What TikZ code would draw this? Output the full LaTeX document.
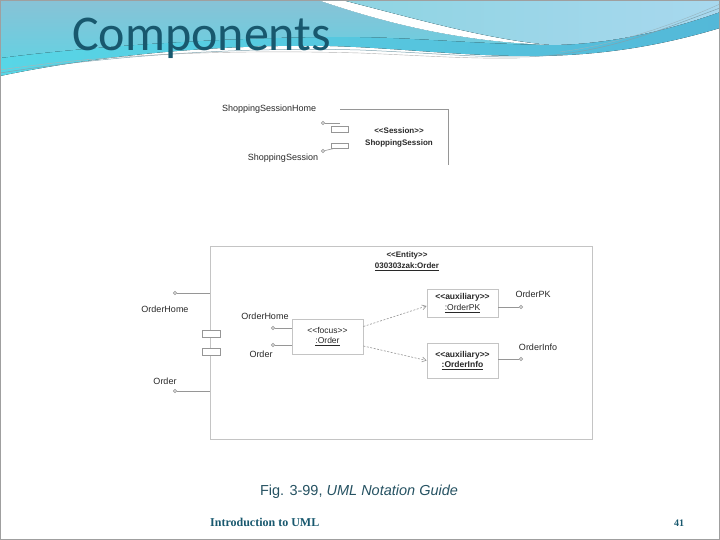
\documentclass[tikz,border=0pt]{standalone}
\usepackage{fontspec}
\setmainfont{Liberation Serif}
\setsansfont{Liberation Sans}
\newfontfamily\titlefont{Carlito}
\usetikzlibrary{positioning}
\usetikzlibrary{arrows.meta}
\definecolor{titleteal}{RGB}{24,88,110}
\definecolor{capteal}{RGB}{38,82,98}
\definecolor{bandcyan}{RGB}{88,214,230}
\definecolor{banddeep}{RGB}{84,184,216}
\definecolor{bandblue}{RGB}{136,194,214}
\definecolor{skyleft}{RGB}{142,212,226}
\definecolor{skyright}{RGB}{168,216,238}
\definecolor{umlline}{RGB}{150,150,150}
\definecolor{umlbox}{RGB}{196,196,196}
\definecolor{umltext}{RGB}{40,40,40}
\tikzset{
  lbl/.style={font=\sffamily\fontsize{9}{10.5}\selectfont, text=umltext, inner sep=0pt, align=center},
  part/.style={draw=umlbox, line width=0.8, fill=white, font=\sffamily\fontsize{8.5}{10.5}\selectfont, text=umltext, align=center, inner sep=0pt},
  tab/.style={draw=umlline, line width=0.6, fill=white, inner sep=0pt, minimum width=17, minimum height=6},
  lolli/.style={circle, draw=umlline, line width=0.6, fill=white, inner sep=0pt, minimum size=3.2},
  wire/.style={draw=umlline, line width=0.6},
  dep/.style={draw=umlline, line width=0.6, dashed, dash pattern=on 2pt off 1.5pt, -{Straight Barb[length=4pt,width=5pt]}}
}
\begin{document}
\begin{tikzpicture}[x=1pt,y=-1pt]
        \useasboundingbox (0,0) rectangle (720,540);
        % header %
        \fill[left color=bandcyan, right color=banddeep] (0,0) -- (720,0) -- (720,28) .. controls (660,46) and (600,56) .. (530,56) .. controls (460,56) and (400,48) .. (330,46) .. controls (220,44) and (100,55) .. (0,76) -- cycle;
        \fill[top color=bandblue, bottom color=bandcyan!70!bandblue] (0,0) -- (318,0) .. controls (400,28) and (470,42) .. (552,45) .. controls (480,44) and (420,38) .. (360,37) .. controls (250,36) and (100,45) .. (0,58) -- cycle;
        \fill[white] (318,0) -- (342,0) .. controls (420,20) and (490,40) .. (552,45) .. controls (470,42) and (400,28) .. (318,0) -- cycle;
        \fill[left color=skyleft, right color=skyright] (342,0) .. controls (420,20) and (490,40) .. (552,45) .. controls (620,44) and (680,26) .. (720,12) -- (720,0) -- cycle;
        \draw[titleteal!55, line width=0.5] (0,73) .. controls (120,54) and (250,47) .. (360,50) .. controls (430,53) and (470,57) .. (520,57) .. controls (600,56) and (660,30) .. (720,8);
        \draw[gray!60, line width=0.4] (0,70) .. controls (120,52) and (250,50) .. (360,53) .. controls (430,56) and (470,59) .. (520,58);
        \draw[titleteal!45, line width=0.4] (560,52) .. controls (620,44) and (680,22) .. (720,4);
        \node[font=\titlefont\fontsize{50}{50}\selectfont, text=titleteal, anchor=base west, inner sep=0pt] (title) at (72,51) {Components};
        % shopping session %
        \coordinate (sesTL) at (340,109);
        \coordinate (sesTR) at (448,109);
        \coordinate (sesBR) at (448,165);
        \draw[wire] (sesTL) -- (sesTR) -- (sesBR);
        \node[tab] (sesTabA) at (339.5,129) {};
        \node[tab, minimum height=5] (sesTabB) at (339.5,145.5) {};
        \node[lolli] (sesHomeIf) at (323,123) {};
        \node[lolli] (sesIf) at (323,151) {};
        \coordinate (sesHomeEnd) at (340,123);
        \coordinate (sesEnd) at (334,148.5);
        \draw[wire] (sesHomeIf) -- (sesHomeEnd);
        \draw[wire] (sesIf) -- (sesEnd);
        \node[lbl, anchor=west] (sesHomeLbl) at (222,109) {ShoppingSessionHome};
        \node[lbl] (sesLbl) at (283,158) {ShoppingSession};
        \node[lbl, font=\sffamily\bfseries\fontsize{8}{12}\selectfont] (sesName) at (399,137) {<{}<Session>{}>\\ShoppingSession};
        % order entity %
        \node[part, minimum width=382, minimum height=193] (entity) at (401,342.5) {};
        \node[lbl, font=\sffamily\bfseries\fontsize{8}{11}\selectfont] (entityName) at (407,261.5) {<{}<Entity>{}>\\\underline{030303zak:Order}};
        \node[tab, minimum width=18, minimum height=7] (entTabA) at (211,333.5) {};
        \node[tab, minimum width=18, minimum height=7] (entTabB) at (211,351.5) {};
        \node[lolli] (homeIf) at (175,293) {};
        \node[lolli] (orderIf) at (175,391) {};
        \draw[wire] (homeIf) -- (entity.west |- homeIf);
        \draw[wire] (orderIf) -- (entity.west |- orderIf);
        \node[lbl] (homeLbl) at (165,309) {OrderHome};
        \node[lbl] (orderLbl) at (165,381) {Order};
        % parts %
        \node[part, minimum width=71, minimum height=35] (focus) at (327.5,336.5) {<{}<focus>{}>\\\underline{:Order}};
        \node[part, minimum width=71, minimum height=28] (auxPK) at (462.5,303) {\textbf{<{}<auxiliary>{}>}\\\underline{:OrderPK}};
        \node[part, minimum width=71, minimum height=35] (auxInfo) at (462.5,360.5) {\textbf{<{}<auxiliary>{}>}\\\underline{\textbf{:OrderInfo}}};
        \node[lolli] (focHomeIf) at (273,328) {};
        \node[lolli] (focOrderIf) at (273,345) {};
        \draw[wire] (focHomeIf) -- (focus.west |- focHomeIf);
        \draw[wire] (focOrderIf) -- (focus.west |- focOrderIf);
        \node[lbl] (focHomeLbl) at (265,316) {OrderHome};
        \node[lbl] (focOrderLbl) at (261,354) {Order};
        \node[lolli] (pkIf) at (521,307) {};
        \node[lolli] (infoIf) at (521,359) {};
        \draw[wire] (auxPK.east |- pkIf) -- (pkIf);
        \draw[wire] (auxInfo.east |- infoIf) -- (infoIf);
        \node[lbl] (pkLbl) at (533,294) {OrderPK};
        \node[lbl] (infoLbl) at (538,347) {OrderInfo};
        % edges %
        \draw[dep] ([yshift=10pt]focus.east) -- ([yshift=-3pt]auxPK.west);
        \draw[dep] ([yshift=-9.5pt]focus.east) -- (auxInfo.west);
        % footer %
        \node[font=\sffamily\fontsize{14.5}{16}\selectfont, text=capteal, inner sep=0pt] (caption) at (359,492) {Fig. 3-99, \textit{UML Notation Guide}};
        \node[font=\bfseries\fontsize{12}{12}\selectfont, text=titleteal, anchor=west, inner sep=0pt] (course) at (210,522) {Introduction to UML};
        \node[font=\bfseries\fontsize{10}{10}\selectfont, text=titleteal, inner sep=0pt] (pageNo) at (679,523) {41};
        \draw[gray!75, line width=1] (0.5,0.5) rectangle (719.5,539.5);
\end{tikzpicture}
\end{document}
